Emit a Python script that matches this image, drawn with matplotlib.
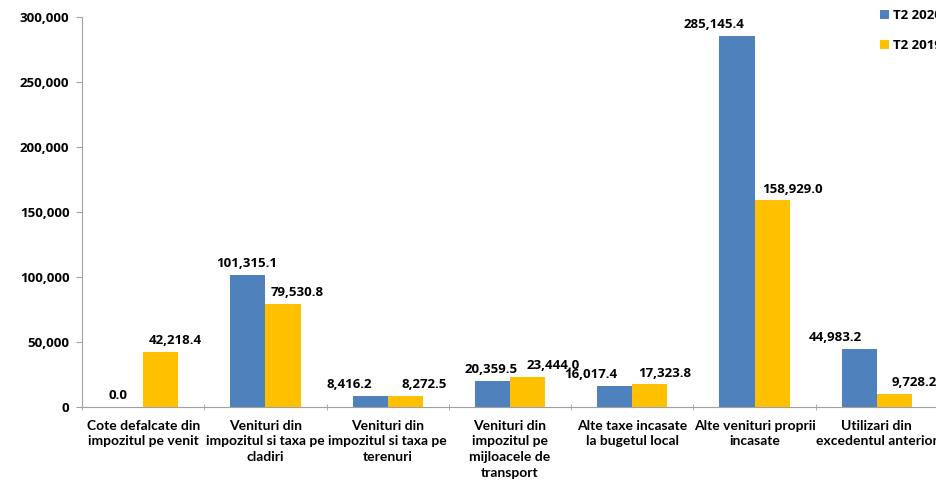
import numpy as np
import matplotlib.pyplot as plt

plt.rcParams['font.family'] = ['Open Sans', 'DejaVu Sans']
plt.rcParams['font.weight'] = 'bold'

categorii = ['Cote defalcate din\nimpozitul pe venit',
             'Venituri din\nimpozitul si taxa pe\ncladiri',
             'Venituri din\nimpozitul si taxa pe\nterenuri',
             'Venituri din\nimpozitul pe\nmijloacele de\ntransport',
             'Alte taxe incasate\nla bugetul local',
             'Alte venituri proprii\nincasate',
             'Utilizari din\nexcedentul anterior']
t2_2020 = [0.0, 101315.1, 8416.2, 20359.5, 16017.4, 285145.4, 44983.2]
t2_2019 = [42218.4, 79530.8, 8272.5, 23444.0, 17323.8, 158929.0, 9728.2]

# horizontal nudges (px) for the value labels so neighbours don't collide
dx_2020 = [-8, -1, -21, -1, -24, -23, -24]
dx_2019 = [15, 14, 19, 26, 15, 20, 20]

albastru = '#4F81BD'
galben = '#FFC000'
fs = 9.5

fig = plt.figure(figsize=(9.37, 4.83), dpi=100)
ax = fig.add_axes([82 / 937, 76 / 483, 856 / 937, 390 / 483])

x = np.arange(len(categorii))
w = 0.287
b1 = ax.bar(x - w / 2, t2_2020, w, color=albastru, label='T2 2020')
b2 = ax.bar(x + w / 2, t2_2019, w, color=galben, label='T2 2019')

for bars, vals, dxs in ((b1, t2_2020, dx_2020), (b2, t2_2019, dx_2019)):
    for b, v, d in zip(bars, vals, dxs):
        ax.annotate(f'{v:,.1f}', (b.get_x() + b.get_width() / 2, v),
                    xytext=(d * 0.72, 3.5), textcoords='offset points',
                    ha='center', va='bottom', fontsize=fs, fontweight='bold')

ax.set_xlim(-0.5, len(categorii) - 0.5)
ax.set_ylim(0, 300000)
ax.set_yticks(np.arange(0, 300001, 50000))
ax.set_yticklabels([f'{v:,}' for v in range(0, 300001, 50000)], fontsize=fs)

# category names in a narrower face so the wrapped lines fit their slots
ax.set_xticks(x)
ax.set_xticklabels(categorii, fontsize=10, linespacing=1.38,
                   family=['Lato', 'DejaVu Sans'], fontweight='bold')
ax.tick_params(axis='x', length=0, pad=9)
ax.set_xticks(np.arange(-0.5, len(categorii), 1), minor=True)
ax.tick_params(axis='x', which='minor', length=5, color='#A0A0A0', direction='inout')
ax.tick_params(axis='y', length=4, color='#A0A0A0', pad=5)

for s in ['top', 'right']:
    ax.spines[s].set_visible(False)
for s in ['left', 'bottom']:
    ax.spines[s].set_color('#A0A0A0')

fig.legend(handles=[b1, b2], loc='upper left', bbox_to_anchor=(871 / 937, 1.0),
           frameon=False, fontsize=fs, handlelength=0.65, handleheight=0.65,
           labelspacing=1.3, handletextpad=0.3, borderaxespad=0.3)

fig.savefig('out.png', dpi=100)
